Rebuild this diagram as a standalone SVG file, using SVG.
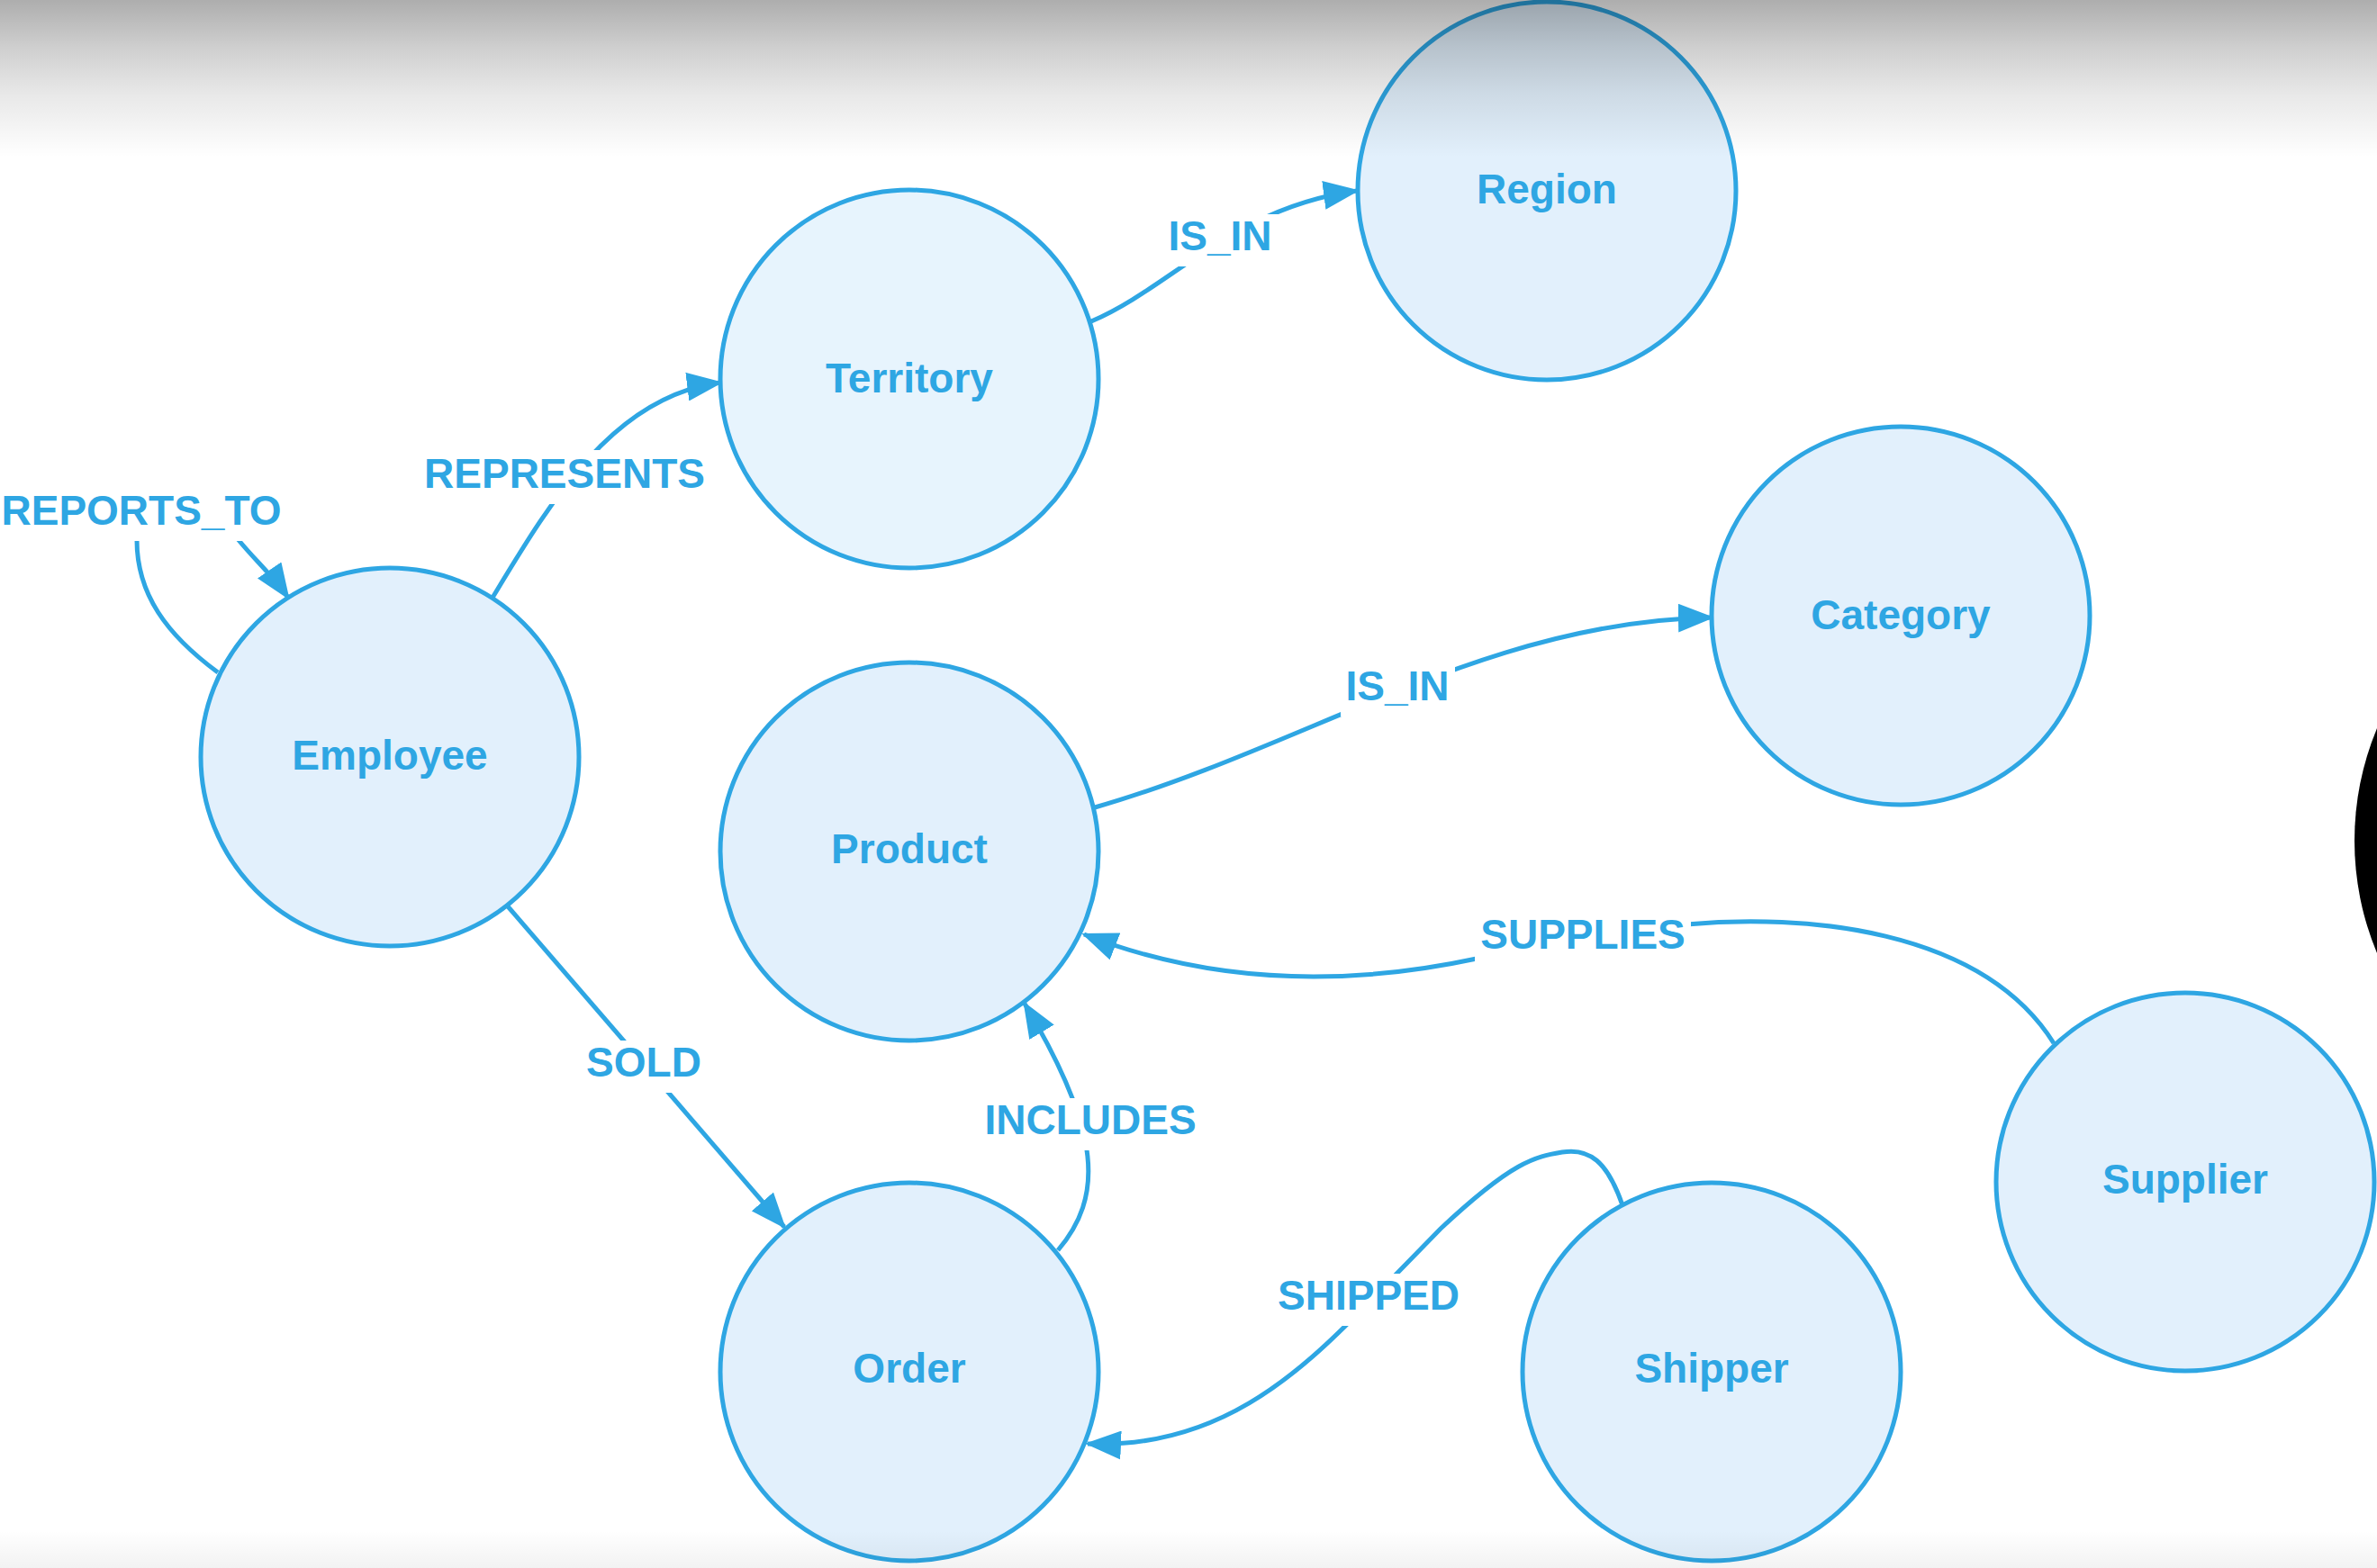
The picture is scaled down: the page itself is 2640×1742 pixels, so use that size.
<svg xmlns="http://www.w3.org/2000/svg" width="2640" height="1742" viewBox="0 0 2640 1742">
<style>
.node circle{fill:#e2f0fc;stroke:#2ea6e3;stroke-width:5}
.node text{font-family:"Liberation Sans",Arial,sans-serif;font-weight:bold;font-size:46px;fill:#2ea6e3;text-anchor:middle}
.edge path{fill:none;stroke:#2ea6e3;stroke-width:5;marker-end:url(#arrow)}
.edge rect{fill:#ffffff}
.edge text{font-family:"Liberation Sans",Arial,sans-serif;font-weight:bold;font-size:46px;fill:#2ea6e3;text-anchor:middle}
</style>
<defs>
<marker id="arrow" markerUnits="userSpaceOnUse" markerWidth="40" markerHeight="32" refX="37" refY="16" orient="auto" viewBox="0 0 40 32">
<path d="M0,0 L40,16 L0,32 z" fill="#2ea6e3"/>
</marker>
<linearGradient id="topShade" x1="0" y1="0" x2="0" y2="1">
<stop offset="0" stop-color="#000" stop-opacity="0.32"/>
<stop offset="0.3" stop-color="#000" stop-opacity="0.19"/>
<stop offset="0.6" stop-color="#000" stop-opacity="0.09"/>
<stop offset="1" stop-color="#000" stop-opacity="0"/>
</linearGradient>
<linearGradient id="botShade" x1="0" y1="0" x2="0" y2="1">
<stop offset="0" stop-color="#000" stop-opacity="0"/>
<stop offset="1" stop-color="#000" stop-opacity="0.05"/>
</linearGradient>
</defs>
<rect x="0" y="0" width="2640" height="1742" fill="#ffffff"/>
<g id="connectors">
<g class="edge" id="e-reports-to">
<path d="M242 747 C185 705 152 660 152 600 C152 555 240 560 265 600 C283 622 305 642 320 664"/>
<rect x="0" y="541" width="320" height="60"/>
<text x="157" y="583">REPORTS_TO</text>
</g>
<g class="edge" id="e-represents">
<path d="M547 664 C610 560 680 440 800 425"/>
<rect x="463" y="500" width="328" height="60"/>
<text x="627" y="542">REPRESENTS</text>
</g>
<g class="edge" id="e-is-in-region">
<path d="M1212 357 C1300 320 1370 230 1507 212"/>
<rect x="1290" y="238" width="130" height="58"/>
<text x="1355" y="278">IS_IN</text>
</g>
<g class="edge" id="e-is-in-category">
<path d="M1216 897 C1450 830 1650 690 1901 686"/>
<rect x="1489" y="738" width="127" height="58"/>
<text x="1552" y="778">IS_IN</text>
</g>
<g class="edge" id="e-supplies">
<path d="M2281 1159 C2200 1030 2000 1015 1873 1027 L1640 1065 C1500 1095 1350 1095 1204 1038"/>
<rect x="1638" y="1012" width="240" height="60"/>
<text x="1758" y="1054">SUPPLIES</text>
</g>
<g class="edge" id="e-sold">
<path d="M564 1007 L871 1363"/>
<rect x="645" y="1156" width="140" height="58"/>
<text x="715" y="1196">SOLD</text>
</g>
<g class="edge" id="e-includes">
<path d="M1175 1389 C1225 1330 1225 1260 1138 1115"/>
<rect x="1087" y="1220" width="247" height="58"/>
<text x="1211" y="1260">INCLUDES</text>
</g>
<g class="edge" id="e-shipped">
<path d="M1802 1339 C1785 1290 1765 1275 1735 1280 C1705 1285 1680 1290 1600 1365 L1520 1447 C1440 1530 1350 1610 1208 1604"/>
<rect x="1413" y="1415" width="214" height="58"/>
<text x="1520" y="1455">SHIPPED</text>
</g>
</g>
<g id="node-region" class="node"><circle cx="1718" cy="212" r="210"/><text x="1718" y="226">Region</text></g>
<g id="node-territory" class="node"><circle cx="1010" cy="421" r="210" style="fill:#e7f4fd"/><text x="1010" y="436">Territory</text></g>
<g id="node-category" class="node"><circle cx="2111" cy="684" r="210"/><text x="2111" y="699">Category</text></g>
<g id="node-employee" class="node"><circle cx="433" cy="841" r="210"/><text x="433" y="855">Employee</text></g>
<g id="node-product" class="node"><circle cx="1010" cy="946" r="210"/><text x="1010" y="959">Product</text></g>
<g id="node-supplier" class="node"><circle cx="2427" cy="1313" r="210"/><text x="2427" y="1326">Supplier</text></g>
<g id="node-order" class="node"><circle cx="1010" cy="1524" r="210"/><text x="1010" y="1536">Order</text></g>
<g id="node-shipper" class="node"><circle cx="1901" cy="1524" r="210"/><text x="1901" y="1536">Shipper</text></g>
<circle cx="2940" cy="934" r="325" fill="#000000"/>
<rect x="0" y="0" width="2640" height="175" fill="url(#topShade)"/>
<rect x="0" y="1700" width="2640" height="42" fill="url(#botShade)"/>
</svg>
